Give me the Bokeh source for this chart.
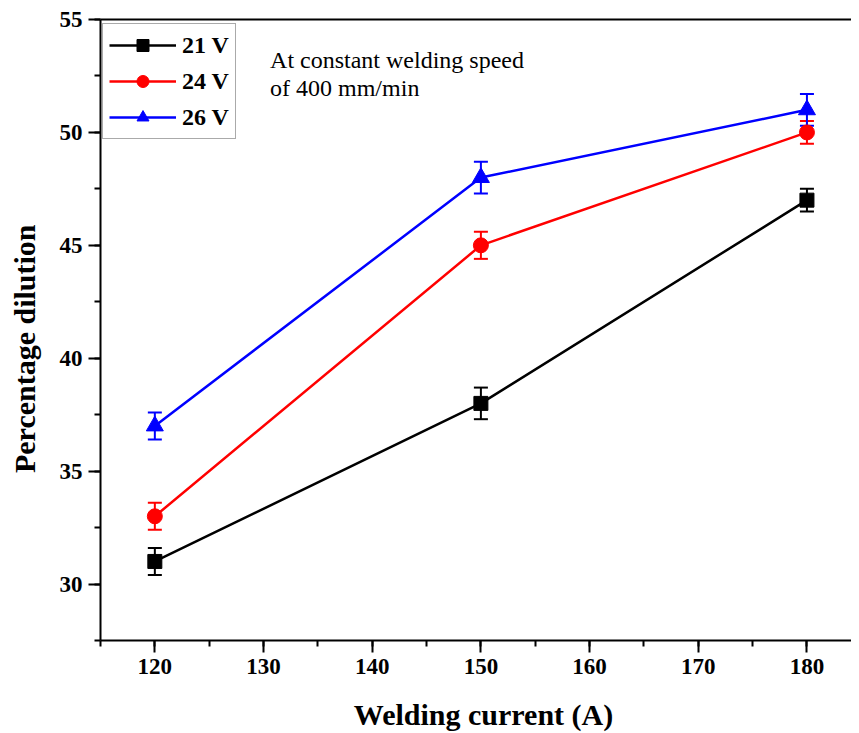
from bokeh.plotting import figure
from bokeh.models import (ColumnDataSource, Whisker, TeeHead, Label, LinearAxis,
                          FixedTicker, SingleIntervalTicker, Range1d, Legend, LegendItem)
from bokeh.embed import file_html
from bokeh.resources import INLINE

current = [120, 150, 180]
v21 = [31, 38, 47]
v21_err = [0.6, 0.7, 0.5]
v24 = [33, 45, 50]
v24_err = [0.6, 0.6, 0.5]
v26 = [37, 48, 51]
v26_err = [0.6, 0.7, 0.7]
series_labels = ["21 V", "24 V", "26 V"]
colors = ["#000000", "#FF0000", "#0000FF"]
markers = ["square", "circle", "triangle"]
marker_sizes = [14, 15, 17]
x_title = "Welding current (A)"
y_title = "Percentage dilution"
note = "At constant welding speed\nof 400 mm/min"

FONT = "'Liberation Serif', 'Times New Roman', serif"

p = figure(width=851, height=733, output_backend="svg", toolbar_location=None,
           x_range=Range1d(115, 184.1), y_range=Range1d(27.5, 55))
p.min_border_left = 100
p.min_border_right = 0
p.min_border_top = 19
p.min_border_bottom = 93
p.outline_line_color = None
p.background_fill_color = "white"
p.border_fill_color = "white"
p.grid.visible = False

p.xaxis.ticker = SingleIntervalTicker(interval=10, num_minor_ticks=2)
p.yaxis.ticker = SingleIntervalTicker(interval=5, num_minor_ticks=2)
for ax in (p.xaxis, p.yaxis):
    ax.axis_line_width = 2
    ax.major_tick_line_width = 2
    ax.minor_tick_line_width = 2
    ax.major_tick_out = 12
    ax.major_tick_in = 0
    ax.minor_tick_out = 6
    ax.minor_tick_in = 0
    ax.major_label_text_font = FONT
    ax.major_label_text_font_style = "bold"
    ax.major_label_text_font_size = "23px"
    ax.major_label_text_color = "black"
    ax.major_label_standoff = 6
    ax.axis_label_text_font = FONT
    ax.axis_label_text_font_style = "bold"
    ax.axis_label_text_font_size = "30px"
    ax.axis_label_text_color = "black"
p.xaxis.axis_label = "\u00a0" * 2 + x_title
p.yaxis.axis_label = y_title + "\u00a0" * 5
p.xaxis.major_label_text_line_height = 1.0
p.xaxis.axis_label_text_line_height = 1.0
p.xaxis.axis_label_standoff = 21
p.yaxis.axis_label_standoff = 16

top_axis = LinearAxis(ticker=FixedTicker(ticks=[]), axis_line_width=2,
                      major_tick_out=0, minor_tick_out=0)
p.add_layout(top_axis, "above")

data = [(v21, v21_err), (v24, v24_err), (v26, v26_err)]
items = []
for (vals, errs), lab, col, mk, ms in zip(data, series_labels, colors, markers, marker_sizes):
    src = ColumnDataSource(dict(x=current, y=vals,
                                upper=[v + e for v, e in zip(vals, errs)],
                                lower=[v - e for v, e in zip(vals, errs)]))
    ln = p.line("x", "y", source=src, line_color=col, line_width=2.5)
    w = Whisker(base="x", upper="upper", lower="lower", source=src,
                line_color=col, line_width=2,
                upper_head=TeeHead(size=14, line_color=col, line_width=2),
                lower_head=TeeHead(size=14, line_color=col, line_width=2))
    p.add_layout(w)
    sc = p.scatter("x", "y", source=src, marker=mk, size=ms,
                   fill_color=col, line_color=col)
    items.append(LegendItem(label=lab, renderers=[ln, sc]))

legend = Legend(items=items, location=(2, 501),
                glyph_width=67, glyph_height=30, label_standoff=6, spacing=6,
                padding=6, margin=0,
                label_text_font=FONT, label_text_font_style="bold",
                label_text_font_size="24px", label_text_color="black",
                border_line_color="#555555", border_line_width=1,
                background_fill_color="white", background_fill_alpha=1)
p.add_layout(legend, "center")

p.add_layout(Label(x=130.6, y=53.8, text=note,
                   text_font=FONT, text_font_size="24px", text_color="black",
                   text_baseline="top", text_align="left", text_line_height=1.1))

open("out.html", "w").write(file_html(p, INLINE))
